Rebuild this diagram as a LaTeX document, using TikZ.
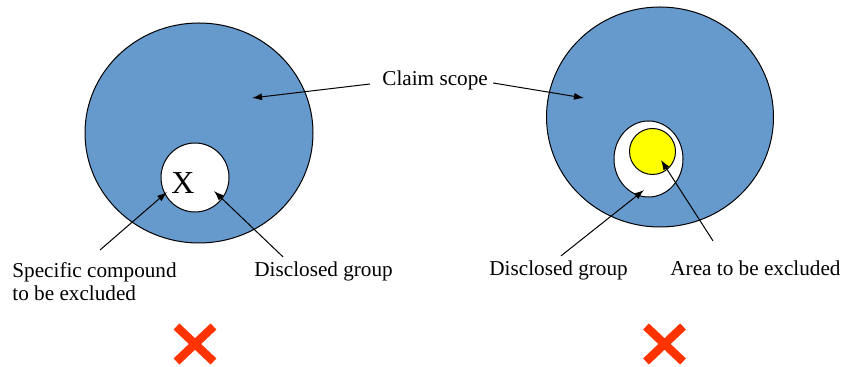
\documentclass[tikz,border=0pt]{standalone}
\usepackage{fontspec}
\setmainfont{Liberation Serif}
\usetikzlibrary{arrows.meta}

\begin{document}
\begin{tikzpicture}[x=0.5pt,y=-0.5pt,
	txt/.style={inner sep=0pt,font=\fontsize{10.6}{11.5}\selectfont},
	pointer/.style={-{Latex[length=5pt,width=3.5pt]},line width=0.5pt}]

	% Define colors
	\definecolor{scopeblue}{RGB}{102,153,204}
	\definecolor{crossred}{RGB}{255,51,0}
	\definecolor{areayellow}{RGB}{255,255,0}

	\useasboundingbox (0,0) rectangle (845,367);

	% Draw the claim scopes
	\filldraw[fill=scopeblue,line width=0.5pt] (199,133) ellipse [x radius=57pt,y radius=55pt];
	\filldraw[fill=scopeblue,line width=0.5pt] (660,117) ellipse [x radius=56.75pt,y radius=55pt];

	% Draw the disclosed groups
	\filldraw[fill=white,line width=0.5pt] (195,177.5) ellipse [x radius=17pt,y radius=17.25pt];
	\filldraw[fill=white,line width=0.5pt] (648.5,159) ellipse [x radius=17.25pt,y radius=19pt];

	% Draw the area to be excluded
	\filldraw[fill=areayellow,line width=0.5pt] (652.5,151.5) circle [radius=11.5pt];

	% Draw the specific compound
	\node[inner sep=0pt,font=\fontsize{16}{16}\selectfont,anchor=base west] (cmpd) at (171,194) {X};

	% Draw the labels
	\node[txt,anchor=base west] (scope) at (382,86) {Claim scope};
	\node[txt,align=left,anchor=north west] (spec) at (12,262) {Specific compound\\to be excluded};
	\node[txt,anchor=base west] (discL) at (254,277) {Disclosed group};
	\node[txt,anchor=base west] (discR) at (489,276) {Disclosed group};
	\node[txt,anchor=base west] (area) at (670,276) {Area to be excluded};

	% Arrow tips
	\coordinate (scopeL) at (252,98);
	\coordinate (scopeR) at (584,98);
	\coordinate (specT) at (167,192);
	\coordinate (discLT) at (214,191);
	\coordinate (discRT) at (644,190);
	\coordinate (areaT) at (661,160);

	% Draw the arrows
	\draw[pointer] ([shift={(-12,-2)}]scope.base west) -- (scopeL);
	\draw[pointer] ([shift={(5,-3)}]scope.base east) -- (scopeR);
	\draw[pointer] ([shift={(88,-12)}]spec.north west) -- (specT);
	\draw[pointer] ([shift={(29,-5)}]discL.north west) -- (discLT);
	\draw[pointer] ([shift={(72,-5)}]discR.north west) -- (discRT);
	\draw[pointer] ([shift={(43,-20)}]area.north west) -- (areaT);

	% Draw the red crosses
	\foreach \cx in {195,664.5} {
		\draw[crossred,line width=4.2pt] (\cx-18.5,326.5) -- (\cx+18.5,361.5);
		\draw[crossred,line width=4.2pt] (\cx-18.5,361.5) -- (\cx+18.5,326.5);
	}

\end{tikzpicture}
\end{document}
